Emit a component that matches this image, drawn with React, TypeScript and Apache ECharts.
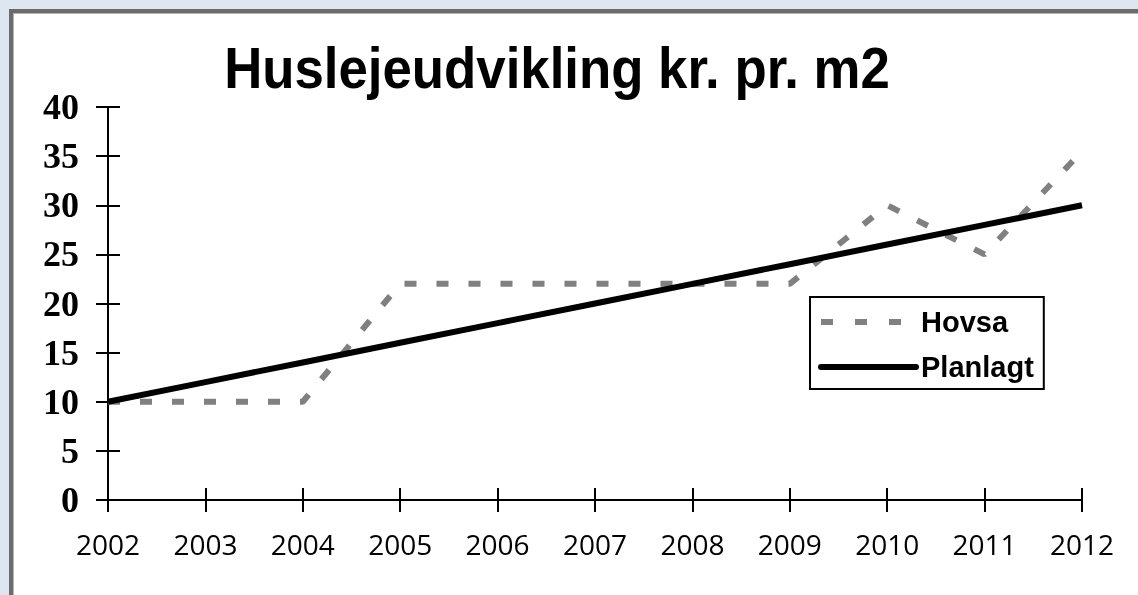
import React, { useEffect, useRef } from "react";
import * as echarts from "echarts";

const TITLE = "Huslejeudvikling kr. pr. m2";
const YEARS = ["2002", "2003", "2004", "2005", "2006", "2007", "2008", "2009", "2010", "2011", "2012"];
const HOVSA = [10, 10, 10, 22, 22, 22, 22, 22, 30, 25, 35.5];
const PLANLAGT = [10, 12, 14, 16, 18, 20, 22, 24, 26, 28, 30];
const SERIES_NAMES = ["Hovsa", "Planlagt"];

export default function App() {
  const ref = useRef<HTMLDivElement>(null);
  useEffect(() => {
    document.body.style.margin = "0";
    document.documentElement.style.overflow = "hidden";
    if (!ref.current) return;
    const chart = echarts.init(ref.current, null, { renderer: "svg" });
    const axisLine = { show: true, onZero: false, lineStyle: { color: "#000", width: 2 } };
    const tickStyle = { color: "#000", width: 2 };
    const hiddenSymbol = { color: "transparent", borderColor: "transparent", borderWidth: 0, opacity: 0 };
    const gridBox = { left: 108, right: 56, top: 107, bottom: 95 };
    chart.setOption({
      animation: false,
      graphic: [
        {
          type: "rect",
          z: -100,
          silent: true,
          shape: { x: 0, y: 0, width: 1138, height: 595 },
          style: { fill: "#dde6f1" },
        },
        {
          type: "rect",
          z: -99,
          silent: true,
          shape: { x: 9, y: 9, width: 1200, height: 700 },
          style: { fill: "#6b6b6b" },
        },
        {
          type: "rect",
          z: -98,
          silent: true,
          shape: { x: 13, y: 13, width: 1200, height: 700 },
          style: { fill: "#b4b4b4" },
        },
        {
          type: "rect",
          z: -97,
          silent: true,
          shape: { x: 14, y: 14, width: 1200, height: 700 },
          style: { fill: "#ffffff" },
        },
        {
          type: "text",
          x: 557,
          y: 68,
          scaleX: 0.91,
          style: {
            text: TITLE,
            font: 'bold 58px "Liberation Sans", Arial, sans-serif',
            fill: "#000",
            align: "center",
            verticalAlign: "middle",
            textAlign: "center",
            textVerticalAlign: "middle",
          },
        },
      ],
      grid: [gridBox, gridBox],
      legend: {
        orient: "vertical",
        left: 810,
        top: 297,
        padding: [10, 10, 7, 8],
        itemGap: 15,
        itemWidth: 95,
        itemHeight: 14,
        backgroundColor: "#fff",
        borderColor: "#000",
        borderWidth: 2,
        selectedMode: false,
        itemStyle: hiddenSymbol,
        textStyle: {
          fontFamily: '"Liberation Sans", Arial, sans-serif',
          fontWeight: "bold",
          fontSize: 29,
          lineHeight: 30,
          color: "#000",
        },
        data: [
          {
            name: SERIES_NAMES[0],
            itemStyle: hiddenSymbol,
            lineStyle: { width: 6, type: [12, 22], color: "#808080" },
          },
          {
            name: SERIES_NAMES[1],
            itemStyle: hiddenSymbol,
            lineStyle: { width: 6, type: "solid", color: "#000", cap: "round" },
          },
        ],
      },
      xAxis: [
        {
          gridIndex: 0,
          type: "category",
          data: YEARS,
          boundaryGap: false,
          position: "bottom",
          axisLine,
          axisTick: { show: true, length: 12, lineStyle: tickStyle },
          axisLabel: {
            margin: 30,
            color: "#000",
            fontFamily: '"Open Sans", sans-serif',
            fontSize: 28,
          },
          splitLine: { show: false },
        },
        {
          gridIndex: 1,
          type: "category",
          data: YEARS,
          boundaryGap: false,
          position: "bottom",
          axisLine,
          axisTick: { show: true, inside: true, length: 12, lineStyle: tickStyle },
          axisLabel: { show: false },
          splitLine: { show: false },
        },
      ],
      yAxis: [
        {
          gridIndex: 0,
          type: "value",
          min: 0,
          max: 40,
          interval: 5,
          position: "left",
          axisLine,
          axisTick: { show: true, length: 12, lineStyle: tickStyle },
          axisLabel: {
            margin: 29,
            color: "#000",
            fontFamily: '"Liberation Serif", "Times New Roman", serif',
            fontWeight: "bold",
            fontSize: 36,
          },
          splitLine: { show: false },
        },
        {
          gridIndex: 1,
          type: "value",
          min: 0,
          max: 40,
          interval: 5,
          position: "left",
          axisLine,
          axisTick: { show: true, inside: true, length: 12, lineStyle: tickStyle },
          axisLabel: { show: false },
          splitLine: { show: false },
        },
      ],
      series: [
        {
          name: SERIES_NAMES[0],
          type: "line",
          xAxisIndex: 0,
          yAxisIndex: 0,
          data: HOVSA,
          symbol: "none",
          showSymbol: false,
          lineStyle: { color: "#808080", width: 6, type: [12, 20] },
          itemStyle: { color: "#808080" },
          z: 2,
        },
        {
          name: SERIES_NAMES[1],
          type: "line",
          xAxisIndex: 0,
          yAxisIndex: 0,
          data: PLANLAGT,
          symbol: "none",
          showSymbol: false,
          lineStyle: { color: "#000", width: 6 },
          itemStyle: { color: "#000" },
          z: 3,
        },
      ],
    });
    return () => chart.dispose();
  }, []);

  return (
    <div style={{ position: "fixed", left: 0, top: 0, width: 1138, height: 595, overflow: "hidden" }}>
      <div ref={ref} style={{ position: "absolute", left: 0, top: 0, width: 1138, height: 595 }} />
    </div>
  );
}
